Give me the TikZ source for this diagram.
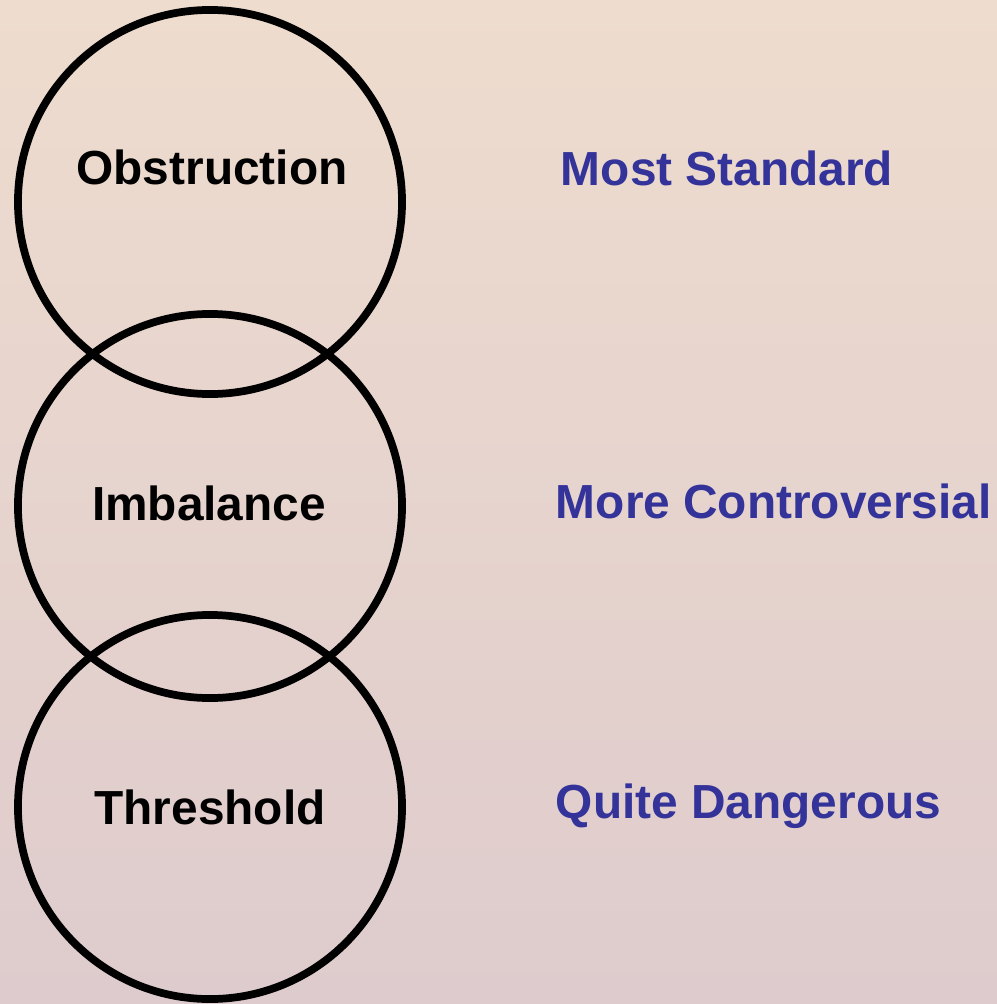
\documentclass[tikz,border=0pt]{standalone}
\usepackage{fontspec}
\setmainfont{Liberation Sans}
\definecolor{bgtop}{HTML}{EEDCCE}
\definecolor{bgbottom}{HTML}{DECBCD}
\definecolor{rankblue}{HTML}{333399}
\tikzset{
	ring/.style={draw, circle, line width=5.5pt, minimum size=9.6cm},
	ringtext/.style={font=\fontsize{34}{41}\selectfont\bfseries, text=black},
	rank/.style={font=\fontsize{34}{41}\selectfont\bfseries, text=rankblue, anchor=west}
}
\begin{document}
\begin{tikzpicture}[x=0.025cm, y=-0.025cm]
		
		% Background
		\shade[top color=bgtop, bottom color=bgbottom] (0,0) rectangle (997,1004);
		\useasboundingbox (0,0) rectangle (997,1004);
		
		% Obstruction
		\node [ring] (Obs) at (210,202){};
		\node [ringtext] (ObsText) at (212,167) {Obstruction};
		
		% Imbalance
		\node [ring] (Imb) at (210,506){};
		\node [ringtext] (ImbText) at (209,503) {Imbalance};
		
		% Threshold
		\node [ring] (Thr) at (210,807){};
		\node [ringtext] (ThrText) at (210,807) {Threshold};
		
		% Ranking labels
		\node [rank] (Std) at (556,168) {Most Standard};
		\node [rank] (Contro) at (551,501) {More Controversial};
		\node [rank] (Danger) at (551,806) {Quite Dangerous};
		
	\end{tikzpicture}
\end{document}
